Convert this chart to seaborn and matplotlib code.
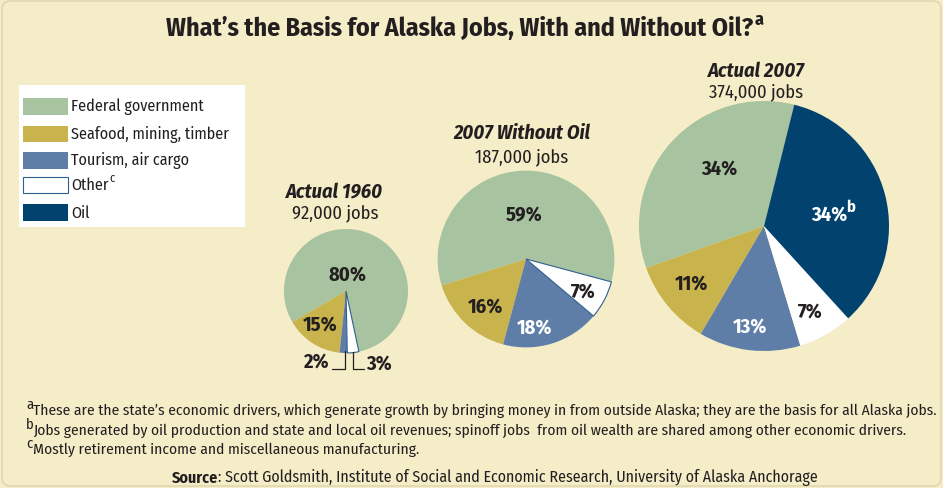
import matplotlib
matplotlib.use("Agg")
import numpy as np
import matplotlib.pyplot as plt
import seaborn as sns
from matplotlib.patches import Rectangle, FancyBboxPatch

# data
sectors = ["Federal government", "Seafood, mining, timber", "Tourism, air cargo", "Other", "Oil"]
sector_colors = ["#A7C39F", "#C9B34D", "#5E7EA7", "#FFFFFF", "#01426F"]
pie_names = ["Actual 1960", "2007 Without Oil", "Actual 2007"]
jobs = [92000, 187000, 374000]
job_labels = ["92,000 jobs", "187,000 jobs", "374,000 jobs"]
share_1960 = [80, 15, 2, 3, 0]
share_no_oil = [59, 16, 18, 7, 0]
share_2007 = [34, 11, 13, 7, 34]
footnotes = [
    ("a", "These are the state\u2019s economic drivers, which generate growth by bringing money in from outside Alaska; they are the basis for all Alaska jobs."),
    ("b", "Jobs generated by oil production and state and local oil revenues; spinoff jobs  from oil wealth are shared among other economic drivers."),
    ("c", "Mostly retirement income and miscellaneous manufacturing."),
]
source = "Scott Goldsmith, Institute of Social and Economic Research, University of Alaska Anchorage"

W, H = 943, 489
bg = "#F5EDC8"
ink = "#231F20"

sns.set_theme(style="white")
plt.rcParams['font.family'] = ['Fira Sans Condensed', 'DejaVu Sans']

fig = plt.figure(figsize=(W / 100, H / 100), dpi=100)
fig.patch.set_facecolor(bg)
ax = fig.add_axes([0, 0, 1, 1])
ax.set_facecolor(bg)
renderer = fig.canvas.get_renderer()


def Y(py):
    return H - py


def txt(x, y, s, **kw):
    kw.setdefault("color", ink)
    kw.setdefault("ha", "center")
    kw.setdefault("va", "center")
    return ax.text(x, Y(y), s, **kw)


def fit(t, width):
    # scale font so the text is as wide as in the original
    w = t.get_window_extent(renderer).width
    t.set_fontsize(t.get_fontsize() * width / w)
    return t.get_fontsize()


# pies
centers = [(346, 292), (526, 260), (764, 227)]
starts = [282, -15, 76]
base_r = 62
shares = [share_1960, share_no_oil, share_2007]

for k, ((cx, cy), st, n, vals) in enumerate(zip(centers, starts, jobs, shares)):
    r = base_r * np.sqrt(n / jobs[0])
    keep = [i for i, v in enumerate(vals) if v > 0]
    wedges, _ = ax.pie([vals[i] for i in keep], colors=[sector_colors[i] for i in keep],
                       startangle=st, counterclock=True, center=(cx, Y(cy)), radius=r,
                       frame=True, wedgeprops=dict(linewidth=0))
    for w, i in zip(wedges, keep):
        if sectors[i] == "Other" and k < 2:
            w.set_edgecolor("#2F5F8F")
            w.set_linewidth(0.8)

# pie titles
title_pos = [(335, 192, 213), (522, 133, 157), (756, 71, 92)]
tt, st_ = [], []
for (x, y1, y2), name, jl in zip(title_pos, pie_names, job_labels):
    tt.append(txt(x, y1, name, fontsize=14, fontweight="bold", style="italic"))
    st_.append(txt(x, y2, jl, fontsize=13))
fs = fit(tt[1], 137)
for t in tt:
    t.set_fontsize(fs)
fs = fit(st_[1], 94)
for t in st_:
    t.set_fontsize(fs)

# percent labels
pct_pos = [
    [(347, 275, ink), (320, 325, ink), (316, 362, ink), (379, 364, ink)],
    [(524, 216, ink), (486, 307, ink), (535, 328, "white"), (583, 292, ink)],
    [(719, 169, ink), (692, 284, ink), (750, 327, "white"), (810, 312, ink), (829, 215, "white")],
]
pct_texts = []
for vals, poss in zip(shares, pct_pos):
    nz = [v for v in vals if v > 0]
    for v, (x, y, c) in zip(nz, poss):
        pct_texts.append(txt(x, y, f"{v}%", fontsize=15, fontweight="bold", color=c))
fs = fit(pct_texts[0], 38)
for t in pct_texts:
    t.set_fontsize(fs)
# superscript b on oil label
ax.annotate("b", xy=(1, 1), xycoords=pct_texts[-1], xytext=(-0.5, 4), textcoords="offset points",
            ha="left", va="top", fontsize=fs * 0.8, fontweight="bold", color="white")

# leader lines for tiny 1960 slices
ax.plot([345, 345, 332], [Y(352), Y(370), Y(370)], color=ink, lw=0.9)
ax.plot([353, 353, 364], [Y(353), Y(370), Y(370)], color=ink, lw=0.9)

# legend box
ax.add_patch(Rectangle((19, Y(228)), 226, 142, facecolor="white", edgecolor="none"))
leg_y = [107, 134.5, 161, 185.5, 213]
leg_texts = []
for s, c, y in zip(sectors, sector_colors, leg_y):
    ec = "#2F5F8F" if s == "Other" else "none"
    ax.add_patch(Rectangle((23, Y(y + 8.5)), 45, 16.5, facecolor=c, edgecolor=ec, lw=0.8))
    leg_texts.append(txt(71, y, s, fontsize=13, ha="left"))
fs = fit(leg_texts[1], 158)
for t in leg_texts:
    t.set_fontsize(fs)
ax.annotate("c", xy=(1, 1), xycoords=leg_texts[3], xytext=(0.5, 4), textcoords="offset points",
            ha="left", va="top", fontsize=fs * 0.75, color=ink)

# title
t = txt(460, 29, "What\u2019s the Basis for Alaska Jobs, With and Without Oil?",
        fontsize=19, fontweight="bold")
fs = fit(t, 588)
ax.annotate("a", xy=(1, 1), xycoords=t, xytext=(0.5, 4), textcoords="offset points",
            ha="left", va="top", fontsize=fs * 0.7, fontweight="bold", color=ink)

# footnotes
fn = []
for (sup, s), y in zip(footnotes, [411, 431, 450]):
    txt(26, y - 6, sup, fontsize=10.5, ha="left")
    fn.append(txt(33, y, s, fontsize=11, ha="left"))
fs = fit(fn[0], 905)
for t in fn:
    t.set_fontsize(fs)

s1 = txt(172, 478, "Source", fontsize=11.5, fontweight="bold", ha="left")
s2 = ax.annotate(": " + source, xy=(1, 0.5), xycoords=s1, ha="left", va="center",
                 fontsize=11.5, color=ink)
w_all = s1.get_window_extent(renderer).width + s2.get_window_extent(renderer).width
k = 647 / w_all
s1.set_fontsize(11.5 * k)
s2.set_fontsize(11.5 * k)

ax.add_patch(FancyBboxPatch((2, 2), W - 4, H - 4, boxstyle="round,pad=0,rounding_size=8",
                            facecolor="none", edgecolor="#DDD3AC", lw=1))

ax.set_xlim(0, W)
ax.set_ylim(0, H)
ax.set_aspect("equal")
ax.axis("off")
fig.savefig("out.png", dpi=100, facecolor=bg)
